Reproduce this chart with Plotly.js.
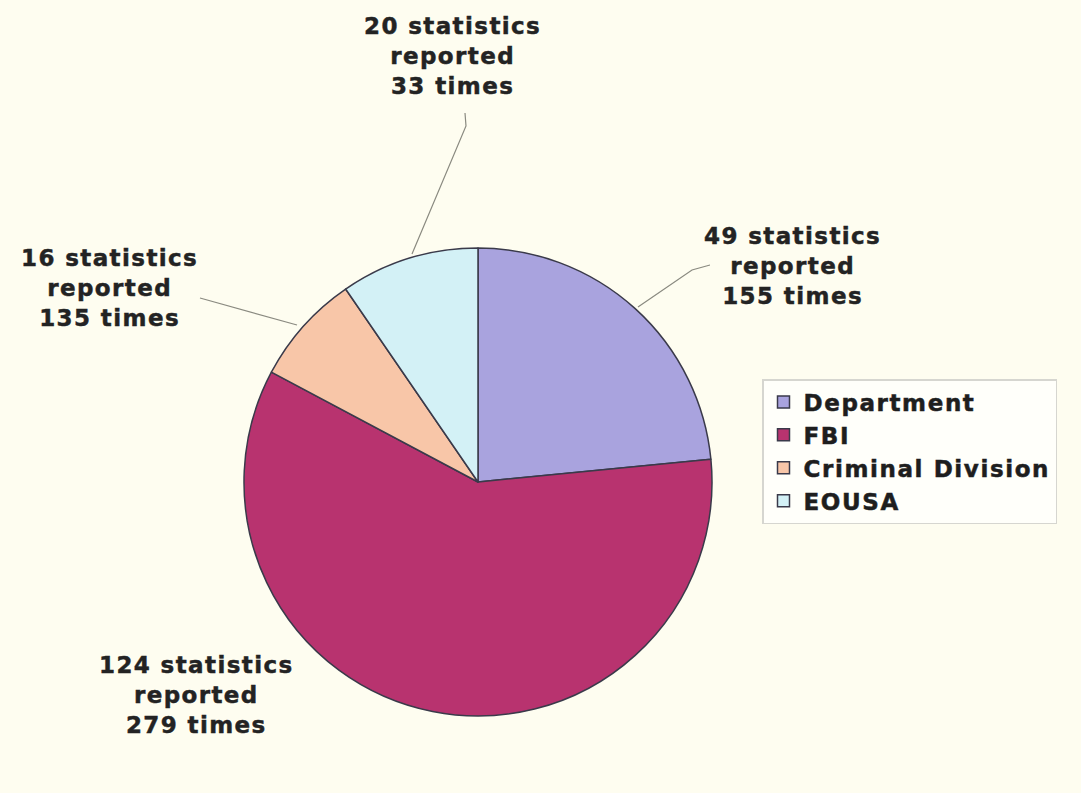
<!DOCTYPE html>
<html>
<head>
<meta charset="utf-8">
<script src="https://cdn.plot.ly/plotly-3.0.1.min.js"></script>
<style>
html, body { margin: 0; padding: 0; background: #fefdf0; }
#chart { width: 1081px; height: 793px; }
.annotation-text { letter-spacing: 1.4px; stroke: #232323; stroke-width: 0.45px; }
.legendtext { letter-spacing: 1.6px; stroke: #1e1e1e; stroke-width: 0.5px; }
</style>
</head>
<body>
<div id="chart"></div>
<script>
// Data
const components = ["Department", "FBI", "Criminal Division", "EOUSA"];
const statisticsCount = [49, 124, 16, 20];
const timesReported = [155, 279, 135, 33];
const sliceColors = ["#a9a3de", "#b8336f", "#f8c6a8", "#d3f1f6"];

const W = 1081, H = 793;
const px = (x) => x / W;
const py = (y) => 1 - y / H;

const cx = 478, cy = 482, r = 234;

const trace = {
  type: "pie",
  labels: components,
  values: statisticsCount,
  sort: false,
  direction: "clockwise",
  rotation: 0,
  textinfo: "none",
  hoverinfo: "label+value",
  marker: { colors: sliceColors, line: { color: "#3a3a4a", width: 1.5 } },
  domain: { x: [px(cx - r), px(cx + r)], y: [py(cy + r), py(cy - r)] },
  automargin: false
};

// label positions (pixel centers) per category
const labelPos = [[792, 266], [196, 695], [109, 288], [452, 56]];
const annotations = components.map((c, i) => ({
  xref: "paper", yref: "paper",
  x: px(labelPos[i][0]), y: py(labelPos[i][1]),
  xanchor: "center", yanchor: "middle",
  showarrow: false, align: "center",
  text: statisticsCount[i] + " statistics<br>reported<br>" + timesReported[i] + " times",
  font: { family: "DejaVu Sans, Verdana, sans-serif", size: 23, color: "#232323", weight: "bold" }
}));

function pathPx(points) {
  return points.map((p, i) => (i ? "L" : "M") + px(p[0]).toFixed(5) + "," + py(p[1]).toFixed(5)).join(" ");
}
const leaderLines = [
  [[710, 265], [692, 270], [638, 307]],
  [[200, 298], [297, 325]],
  [[465, 113], [466, 126], [412, 254]]
];
const shapes = leaderLines.map(pts => ({
  type: "path", xref: "paper", yref: "paper",
  path: pathPx(pts),
  line: { color: "#8a8a80", width: 1.2 }
}));

const layout = {
  width: W, height: H,
  margin: { l: 0, r: 0, t: 0, b: 0 },
  paper_bgcolor: "#fefdf0",
  plot_bgcolor: "#fefdf0",
  showlegend: true,
  legend: {
    x: px(762), y: py(379), xanchor: "left", yanchor: "top",
    bgcolor: "#fffffa", bordercolor: "#d6d6d0", borderwidth: 1.5,
    font: { family: "DejaVu Sans, Verdana, sans-serif", size: 23, color: "#1e1e1e", weight: "bold" },
    tracegroupgap: 0, itemwidth: 30
  },
  annotations: annotations,
  shapes: shapes
};

Plotly.newPlot("chart", [trace], layout, { displayModeBar: false, staticPlot: true });
</script>
</body>
</html>
